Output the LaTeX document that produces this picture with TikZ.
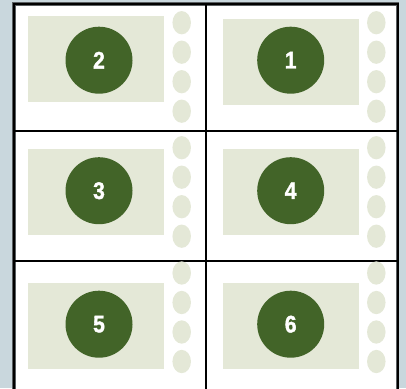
\documentclass[tikz,border=0pt]{standalone}
\usepackage{fontspec}
\usetikzlibrary{shapes.geometric}
\newfontfamily\digitfont[BoldFeatures={FakeBold=1.6}]{Liberation Sans}
\definecolor{bgblue}{HTML}{C9D7DD}
\definecolor{paleg}{HTML}{E4E8D7}
\definecolor{darkg}{HTML}{426428}
\definecolor{framegrey}{HTML}{5A5F62}
\begin{document}
\begin{tikzpicture}[x=1pt,y=-1pt,
  panel/.style={fill=paleg,draw=none,minimum width=136pt,minimum height=86pt,inner sep=0pt},
  disc/.style={circle,fill=darkg,draw=none,minimum size=67pt,inner sep=0pt,text=white,
    font=\digitfont\bfseries\fontsize{24}{24}\selectfont},
  pip/.style={ellipse,fill=paleg,draw=none,minimum width=18.5pt,minimum height=23.3pt,inner sep=0pt},
  divider/.style={draw=black,line width=2pt}]
\useasboundingbox (0,0) rectangle (406,388);
\fill[bgblue] (0,0) rectangle (406,388);
\fill[white] (14,3.7) rectangle (397.5,392);
\draw[framegrey,line width=3.6pt] (14,395) -- (14,3.7) -- (397.5,3.7) -- (397.5,395);
\draw[black,line width=2pt] (14,395) -- (14,3.7) -- (397.5,3.7) -- (397.5,395);
% dividers
\coordinate (vt) at (206.3,3.7);
\coordinate (vb) at (206.3,395);
\coordinate (h1l) at (14,131);
\coordinate (h1r) at (397.5,131);
\coordinate (h2l) at (14,261);
\coordinate (h2r) at (397.5,261);
\draw[divider] (vt) -- (vb);
\draw[divider] (h1l) -- (h1r);
\draw[divider] (h2l) -- (h2r);
% panels
\node[panel] (p2) at (96,59) {};
\node[panel] (p1) at (291,62) {};
\node[panel] (p3) at (96,192) {};
\node[panel] (p4) at (291,192) {};
\node[panel] (p5) at (96,325.5) {};
\node[panel] (p6) at (291,325.5) {};
% discs
\node[disc] (d2) at (99,60.2) {\raisebox{-1pt}{\scalebox{0.88}[1]{2}}};
\node[disc] (d1) at (290.7,60.2) {\raisebox{-1pt}{\scalebox{0.88}[1]{1}}};
\node[disc] (d3) at (99,190.7) {\raisebox{-1pt}{\scalebox{0.88}[1]{3}}};
\node[disc] (d4) at (290.7,190.7) {\raisebox{-1pt}{\scalebox{0.88}[1]{4}}};
\node[disc] (d5) at (99,324.2) {\raisebox{-1pt}{\scalebox{0.88}[1]{5}}};
\node[disc] (d6) at (290.7,324.2) {\raisebox{-1pt}{\scalebox{0.88}[1]{6}}};
% pips
\foreach \r/\y in {a/22.7,b/147.7,c/273}{
  \foreach \k in {0,1,2,3}{
    \node[pip] (pl\r\k) at (181.7,\y+29.5*\k) {};
    \node[pip] (pr\r\k) at (376.3,\y+29.5*\k) {};
  }
}
\end{tikzpicture}
\end{document}
